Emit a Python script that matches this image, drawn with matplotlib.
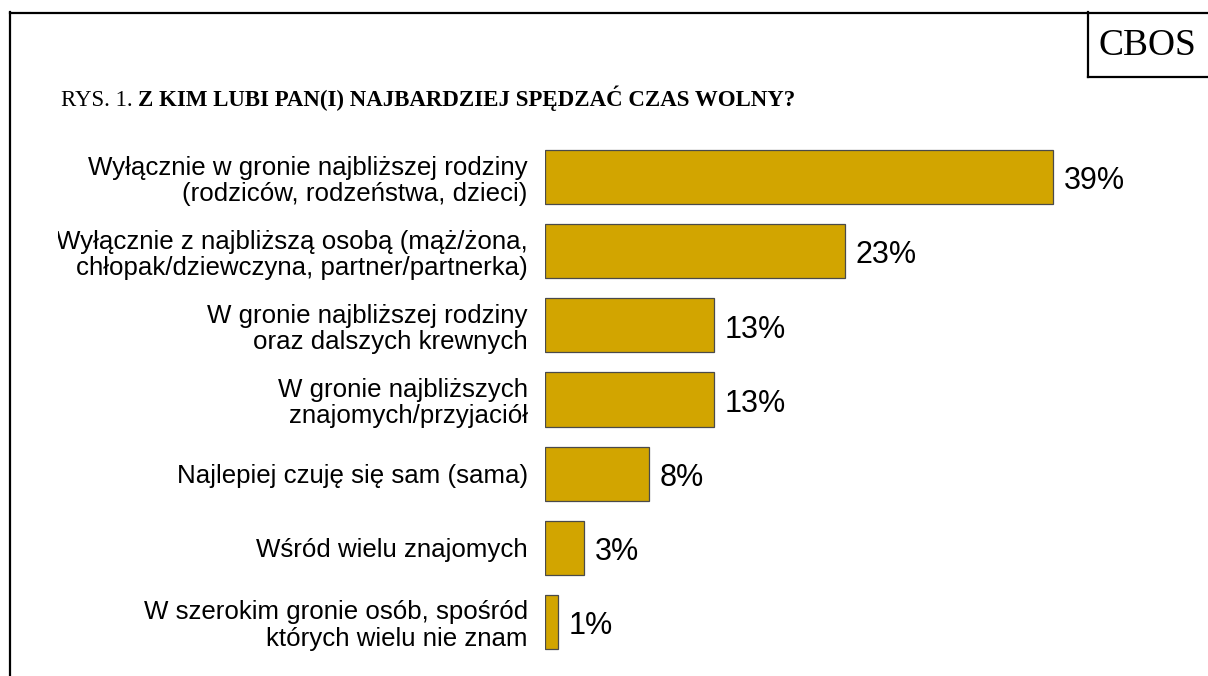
import matplotlib.pyplot as plt
from matplotlib.lines import Line2D
from matplotlib.patches import Rectangle

# data
labels = [
    "Wyłącznie w gronie najbliższej rodziny\n(rodziców, rodzeństwa, dzieci)",
    "Wyłącznie z najbliższą osobą (mąż/żona,\nchłopak/dziewczyna, partner/partnerka)",
    "W gronie najbliższej rodziny\noraz dalszych krewnych",
    "W gronie najbliższych\nznajomych/przyjaciół",
    "Najlepiej czuję się sam (sama)",
    "Wśród wielu znajomych",
    "W szerokim gronie osób, spośród\nktórych wielu nie znam",
]
values = [39, 23, 13, 13, 8, 3, 1]

W, H = 1208, 676
fig = plt.figure(figsize=(W / 100, H / 100), dpi=100)
fig.patch.set_facecolor("white")

# axes placed in pixel terms: value 0 at x=545, 13.03 px per percent
px_per = 13.03
ax_left, ax_w = 545, 620
ax_top, ax_bot = 140, 659
ax = fig.add_axes([ax_left / W, 1 - ax_bot / H, ax_w / W, (ax_bot - ax_top) / H])
ax.set_xlim(0, ax_w / px_per)
ax.set_ylim(len(values) - 0.5, -0.5)

y = range(len(values))
ax.barh(y, values, height=0.73, color="#D2A500", edgecolor="#4a4a4a", linewidth=0.9)

for i, v in enumerate(values):
    ax.annotate(f"{v}%", (v, i), xytext=(7.5, -3), textcoords="offset points",
                ha="left", va="center", fontsize=22, family="Liberation Sans")

ax.set_yticks(list(y))
ax.set_yticklabels(labels, fontsize=18.6, family="Liberation Sans",
                   multialignment="right", linespacing=1.12)
ax.tick_params(axis="y", length=0, pad=12.5)
ax.set_xticks([])
for s in ax.spines.values():
    s.set_visible(False)

# clip labels at left edge like the original
clip = Rectangle((58, 0), W, H, transform=None)
for t in ax.get_yticklabels():
    t.set_clip_path(clip)
    t.set_clip_on(True)

# frame lines (pixel coordinates)
def hline(x0, x1, yy):
    fig.add_artist(Line2D([x0 / W, x1 / W], [1 - yy / H, 1 - yy / H], color="black", lw=1.6))

def vline(xx, y0, y1):
    fig.add_artist(Line2D([xx / W, xx / W], [1 - y0 / H, 1 - y1 / H], color="black", lw=1.6))

hline(9.5, W, 12.5)
vline(10, 12, H)
vline(1088, 12, 77)
hline(1088, W, 77)

fig.text(1147 / W, 1 - 46 / H, "CBOS", ha="center", va="center",
         fontsize=27, family="Liberation Serif")

tx = fig.text(61 / W, 1 - 106 / H, "RYS. 1. ", ha="left", va="baseline",
              fontsize=16.5, family="Liberation Serif")
fig.canvas.draw()
bb = tx.get_window_extent()
fig.text(bb.x1 / W, 1 - 106 / H, "Z KIM LUBI PAN(I) NAJBARDZIEJ SPĘDZAĆ CZAS WOLNY?",
         ha="left", va="baseline", fontsize=16.5, family="Liberation Serif",
         fontweight="bold")

fig.savefig("out.png", dpi=100, facecolor="white")
